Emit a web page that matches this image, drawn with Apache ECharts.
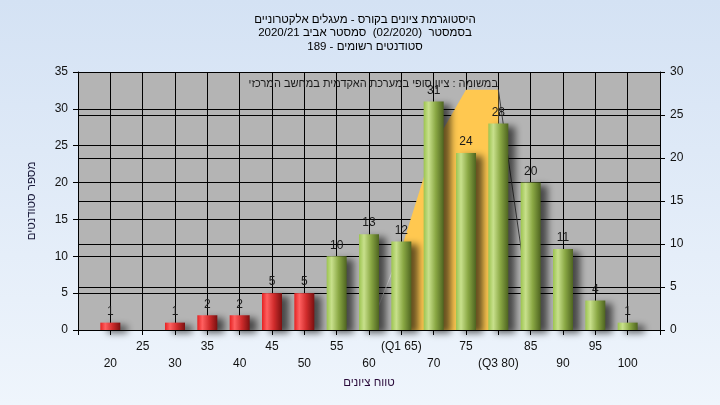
<!DOCTYPE html>
<html>
<head>
<meta charset="utf-8">
<script src="https://cdn.jsdelivr.net/npm/echarts@6/dist/echarts.min.js"></script>
<style>
html,body{margin:0;padding:0;}
#chart{width:720px;height:405px;direction:rtl;}
</style>
</head>
<body>
<div id="chart"></div>
<script>
// ---- data ----
const categories = [20,25,30,35,40,45,50,55,60,65,70,75,80,85,90,95,100];
const counts     = [1,0,1,2,2,5,5,10,13,12,31,24,28,20,11,4,1];
const tickLabels = ['20','25','30','35','40','45','50','55','60','(Q1 65)','70','75','(Q3 80)','85','90','95','100'];
const curveX = [60,65,70,75,80,85];
const curveY = [0,11,25,32.6,32.6,2];
const q1 = 65, q3 = 80;
const passScore = 55;
const titleLines = ['היסטוגרמת ציונים בקורס - מעגלים אלקטרוניים','בסמסטר  (02/2020)  סמסטר אביב 2020/21','סטודנטים רשומים - 189'];
const noteText = 'במשומה : ציון סופי במערכת האקדמית במחשב המרכזי';
const xTitle = 'טווח ציונים';
const yTitle = 'מספר סטודנטים';

const FONT = 'Arial, "Liberation Sans", sans-serif';
const redGrad = {type:'linear',x:0,y:0,x2:1,y2:0,colorStops:[
  {offset:0,color:'#e52222'},{offset:0.25,color:'#ff6060'},{offset:0.6,color:'#d02c2c'},{offset:1,color:'#7a1010'}]};
const greenGrad = {type:'linear',x:0,y:0,x2:1,y2:0,colorStops:[
  {offset:0,color:'#9cc450'},{offset:0.25,color:'#c8e08c'},{offset:0.6,color:'#8aa844'},{offset:1,color:'#4e6420'}]};

const barData = categories.map((c,i)=>({
  value:[c,counts[i]],
  itemStyle:{color: c < passScore ? redGrad : greenGrad}
}));
const pts = curveX.map((x,i)=>[x,curveY[i]]);
const areaPts = pts.filter(p=>p[0]>=q1 && p[0]<=q3);
const leftPts = pts.filter(p=>p[0]<=q1);
const rightPts = pts.filter(p=>p[0]>=q3);

const chart = echarts.init(document.getElementById('chart'));
chart.setOption({
  animation:false,
  backgroundColor:{type:'linear',x:0,y:0,x2:0,y2:1,colorStops:[{offset:0,color:'#d4e2f4'},{offset:1,color:'#eff5fc'}]},
  textStyle:{fontFamily:FONT},
  title:{
    text:titleLines.join('\n'),
    left:360, top:8, textAlign:'center',
    textStyle:{fontSize:11.5,fontWeight:'normal',color:'#000',lineHeight:13.5,fontFamily:FONT}
  },
  graphic:[{
    type:'text', right:720-498, top:78, z:100,
    style:{text:noteText, font:'11px '+FONT, fill:'#1a1a1a'}
  }],
  grid:{left:78,right:60,top:72,bottom:75,show:true,backgroundColor:'#b4b4b4',borderWidth:0},
  xAxis:{
    type:'value',min:15,max:105,interval:5,
    name:xTitle,nameLocation:'middle',nameGap:45,
    nameTextStyle:{fontSize:11.5,color:'#2a0a3a',fontFamily:FONT},
    axisLine:{show:true,lineStyle:{color:'#000',width:1}},
    axisTick:{show:true,length:5,lineStyle:{color:'#000'}},
    splitLine:{show:true,lineStyle:{color:'#000',width:1}},
    axisLabel:{
      margin:8,fontSize:12,color:'#111',lineHeight:17,verticalAlign:'top',
      showMinLabel:true,showMaxLabel:true,
      formatter:function(v){
        const i = categories.indexOf(v);
        if(i<0) return '';
        return i%2===0 ? '\n'+tickLabels[i] : tickLabels[i];
      }
    }
  },
  yAxis:[{
    type:'value',min:0,max:35,interval:5,position:'left',
    name:yTitle,nameLocation:'middle',nameGap:40,
    nameTextStyle:{fontSize:11.5,color:'#1a1a3a',fontFamily:FONT},
    axisLine:{show:true,lineStyle:{color:'#000',width:1}},
    axisTick:{show:true,length:5,lineStyle:{color:'#000'}},
    splitLine:{show:true,lineStyle:{color:'#000',width:1}},
    axisLabel:{margin:10,fontSize:12,color:'#111'}
  },{
    type:'value',min:0,max:30,interval:5,position:'right',
    axisLine:{show:true,lineStyle:{color:'#000',width:1}},
    axisTick:{show:true,length:5,lineStyle:{color:'#000'}},
    splitLine:{show:true,lineStyle:{color:'#000',width:1}},
    axisLabel:{margin:10,fontSize:12,color:'#111'}
  }],
  series:[{
    type:'line',data:areaPts,symbol:'none',z:1,
    lineStyle:{width:0,opacity:0},
    areaStyle:{color:'#ffc850',opacity:1}
  },{
    type:'line',data:leftPts,symbol:'none',z:1,
    lineStyle:{width:1,color:'#d6d6d6'}
  },{
    type:'line',data:rightPts,symbol:'none',z:1,
    lineStyle:{width:1,color:'#404040'}
  },{
    type:'bar',data:barData,barWidth:20,z:3,
    itemStyle:{shadowBlur:7,shadowColor:'rgba(0,0,0,0.6)',shadowOffsetX:7,shadowOffsetY:3},
    label:{show:true,position:'top',distance:5,fontSize:12,color:'#1a1a1a',
      formatter:function(p){return p.value[1]===0?'':String(p.value[1]);}}
  }]
});
</script>
</body>
</html>
